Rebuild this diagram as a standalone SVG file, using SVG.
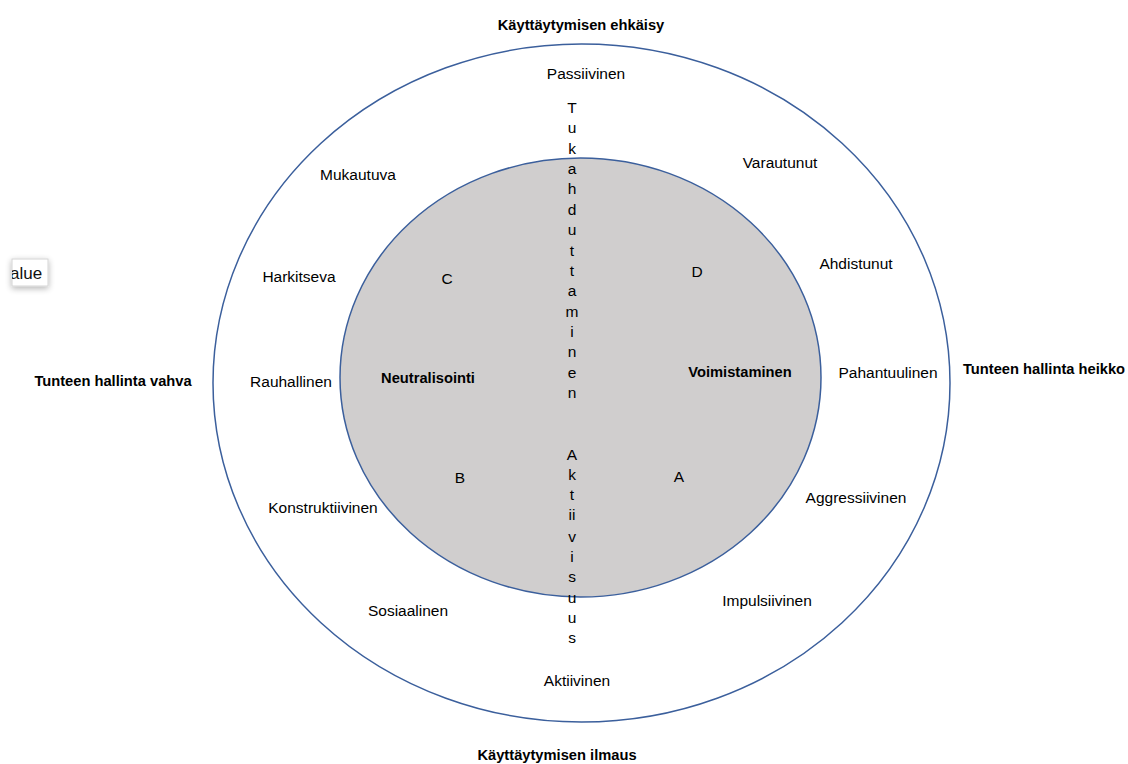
<svg xmlns="http://www.w3.org/2000/svg" width="1128" height="764" viewBox="0 0 1128 764">
<defs>
<style>
.t{font-family:"Liberation Sans",Arial,sans-serif;font-size:15.5px;fill:#000;text-anchor:middle}
.b{font-weight:bold;font-size:14.7px}
.v{font-family:"Liberation Sans",Arial,sans-serif;font-size:15.5px;fill:#000;text-anchor:middle}
.ring{stroke:#3b5f9c;stroke-width:1.5}
</style>
<filter id="sh" x="-50%" y="-50%" width="200%" height="200%">
<feGaussianBlur in="SourceAlpha" stdDeviation="3"/>
<feOffset dx="0" dy="2" result="o"/>
<feComponentTransfer><feFuncA type="linear" slope="0.3"/></feComponentTransfer>
<feMerge><feMergeNode/><feMergeNode in="SourceGraphic"/></feMerge>
</filter>
<clipPath id="cp"><rect x="12" y="259" width="36" height="27"/></clipPath>
</defs>
<rect width="1128" height="764" fill="#fff"/>
<g id="outer"><ellipse class="ring" cx="581.5" cy="383" rx="368.5" ry="339" fill="#fff"/></g>
<g id="inner"><ellipse class="ring" cx="580.5" cy="377.5" rx="240.5" ry="219.5" fill="#d0cece"/></g>
<g id="axis-top" class="v">
<text x="572" y="113">T</text>
<text x="572" y="133">u</text>
<text x="572" y="154">k</text>
<text x="572" y="174">a</text>
<text x="572" y="194">h</text>
<text x="572" y="215">d</text>
<text x="572" y="235">u</text>
<text x="572" y="256">t</text>
<text x="572" y="276">t</text>
<text x="572" y="296">a</text>
<text x="572" y="317">m</text>
<text x="572" y="337">i</text>
<text x="572" y="357">n</text>
<text x="572" y="378">e</text>
<text x="572" y="398">n</text>
</g>
<g id="axis-bottom" class="v">
<text x="572" y="460">A</text>
<text x="572" y="480">k</text>
<text x="572" y="500">t</text>
<text x="572" y="520">ii</text>
<text x="572" y="542">v</text>
<text x="572" y="562">i</text>
<text x="572" y="582">s</text>
<text x="572" y="603">u</text>
<text x="572" y="623">u</text>
<text x="572" y="643">s</text>
</g>
<g id="labels">
<text class="t b" x="581" y="30">Käyttäytymisen ehkäisy</text>
<text class="t" x="586" y="79">Passiivinen</text>
<text class="t" x="358" y="180">Mukautuva</text>
<text class="t" x="780" y="168">Varautunut</text>
<text class="t" x="299" y="282">Harkitseva</text>
<text class="t" x="447" y="284">C</text>
<text class="t" x="697" y="277">D</text>
<text class="t" x="856" y="269">Ahdistunut</text>
<text class="t" x="291" y="387">Rauhallinen</text>
<text class="t b" x="428" y="383">Neutralisointi</text>
<text class="t b" x="740" y="377">Voimistaminen</text>
<text class="t" x="888" y="378">Pahantuulinen</text>
<text class="t b" x="113" y="386">Tunteen hallinta vahva</text>
<text class="t b" x="1044" y="374">Tunteen hallinta heikko</text>
<text class="t" x="460" y="483">B</text>
<text class="t" x="679" y="482">A</text>
<text class="t" x="323" y="513">Konstruktiivinen</text>
<text class="t" x="856" y="503">Aggressiivinen</text>
<text class="t" x="408" y="616">Sosiaalinen</text>
<text class="t" x="767" y="606">Impulsiivinen</text>
<text class="t" x="577" y="686">Aktiivinen</text>
<text class="t b" x="557" y="760">Käyttäytymisen ilmaus</text>
</g>
<g id="tooltip">
<rect x="12" y="259" width="36" height="27" fill="#fff" stroke="#d4d4d4" stroke-width="1" filter="url(#sh)"/>
<text x="10" y="279" clip-path="url(#cp)" style="font-family:'Liberation Sans',Arial,sans-serif;font-size:17px;fill:#111">alue</text>
</g>
</svg>
